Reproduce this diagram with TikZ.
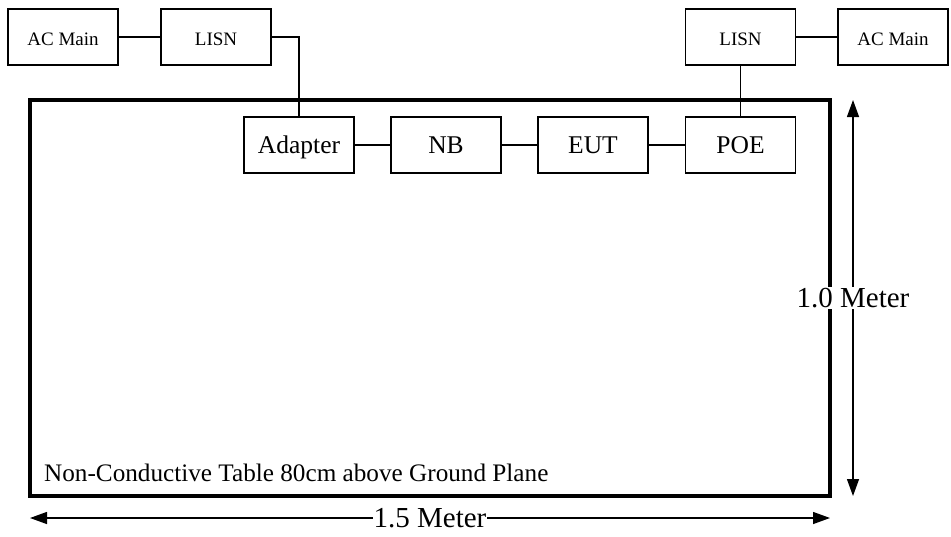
\documentclass[tikz,border=0pt]{standalone}
\usepackage{fontspec}
\setmainfont{Liberation Serif}
\usetikzlibrary{arrows.meta}
\begin{document}
\begin{tikzpicture}[x=1pt,y=-1pt,
  smallbox/.style={draw,line width=1.6pt,minimum width=110pt,minimum height=56pt,inner sep=0pt,text height=18pt,text depth=2pt,font=\fontsize{19}{22}\selectfont},
  bigbox/.style={draw,line width=1.6pt,minimum width=110pt,minimum height=56pt,inner sep=0pt,text height=20pt,text depth=3pt,font=\fontsize{25.5}{30}\selectfont},
  wire/.style={line width=1.3pt},
  dim/.style={line width=1.3pt,{Triangle[length=17pt,width=12pt]}-{Triangle[length=17pt,width=12pt]}},
  dimlabel/.style={fill=white,inner sep=1pt,font=\fontsize{29}{34}\selectfont}]
\useasboundingbox (0,0) rectangle (951,536);
% table
\draw[line width=4pt] (30,100) rectangle (830,496);
\node[anchor=base west,inner sep=0pt,font=\fontsize{25.2}{29}\selectfont] (tbl) at (44,481) {Non-Conductive Table 80cm above Ground Plane};
% boxes
\node[smallbox] (acL) at (63,37) {AC Main};
\node[smallbox] (lisnL) at (216,37) {LISN};
\node[bigbox,fill=white] (adapter) at (299,145) {Adapter};
\node[bigbox] (nb) at (446,145) {NB};
\node[bigbox] (eut) at (593,145) {EUT};
\node[bigbox,fill=white] (poe) at (740.5,145) {POE};
\node[smallbox] (lisnR) at (740.5,37) {LISN};
\node[smallbox] (acR) at (893,37) {AC Main};
% wires
\draw[wire] (acL) -- (lisnL);
\draw[wire] (lisnL.east) -| (adapter.north);
\draw[wire] (adapter) -- (nb);
\draw[wire] (nb) -- (eut);
\draw[wire] (eut) -- (poe);
\draw[wire] (lisnR.south) -- (poe.north);
\draw[wire] (lisnR) -- (acR);
% dimensions
\coordinate (vt) at (853,100);
\coordinate (vb) at (853,496);
\coordinate (hl) at (30,518);
\coordinate (hr) at (830,518);
\draw[dim] (vb) -- (vt);
\draw[dim] (hl) -- (hr);
\node[dimlabel] (vlab) at (853,298) {1.0 Meter};
\node[dimlabel] (hlab) at (430,518) {1.5 Meter};
\end{tikzpicture}
\end{document}
